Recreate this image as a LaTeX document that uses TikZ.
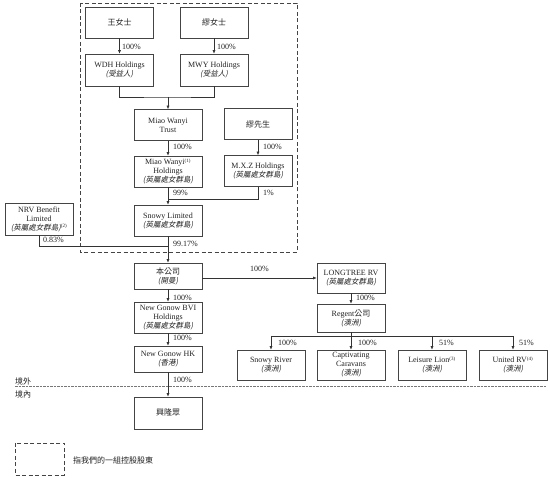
\documentclass[tikz,border=0pt]{standalone}
\usepackage{fontspec}
\setmainfont{Liberation Serif}
\newfontfamily\zhfont{Noto Sans CJK TC}
\newfontfamily\zhslant{Noto Sans CJK TC}[FakeSlant=0.2]
\newcommand{\zh}[1]{{\zhfont #1}}
\newcommand{\zp}[1]{{\zhslant\fontsize{7.5}{9}\selectfont(#1)}}
\newcommand{\fnm}[1]{\textsuperscript{\fontsize{5}{5}\selectfont(#1)}}
\usetikzlibrary{arrows.meta}
\definecolor{linec}{HTML}{333333}
\definecolor{boxc}{HTML}{444444}
\definecolor{txtc}{HTML}{222222}
\definecolor{dotc}{HTML}{777777}
\begin{document}
\begin{tikzpicture}[x=1pt,y=-1pt,
  box/.style={draw=boxc, line width=0.6pt, minimum width=68pt, align=center, inner sep=1pt,
    font=\fontsize{8}{9}\selectfont, text=txtc},
  ln/.style={draw=linec, line width=0.6pt},
  arr/.style={ln, -{Latex[length=3.5pt,width=3pt]}},
  pct/.style={font=\fontsize{8}{9}\selectfont, anchor=west, inner sep=0pt, text=txtc},
  lbl/.style={font=\fontsize{8}{9}\selectfont, anchor=west, inner sep=0pt, text=txtc},
]
\lineskiplimit=-20pt\relax
\useasboundingbox (0,0) rectangle (550,478);

% controlling shareholders group (dashed)
\draw[boxc, line width=0.6pt, dash pattern=on 4pt off 2.5pt] (80,3) rectangle (297,252);

\node[box, minimum height=31pt] (wang) at (119.5,22.5) {\zh{王女士}};
\node[box, minimum height=31pt] (miaof) at (214,22.5) {\zh{繆女士}};
\node[box, minimum height=32pt] (wdh) at (119.5,70) {WDH Holdings\\\zp{受益人}};
\node[box, minimum height=32pt] (mwy) at (214,70) {MWY Holdings\\\zp{受益人}};
\node[box, minimum height=31pt] (trust) at (168,125) {Miao Wanyi\\Trust};
\node[box, minimum height=31pt] (miaom) at (258,124) {\zh{繆先生}};
\node[box, minimum height=31pt] (mwh) at (168,171.5) {Miao Wanyi\fnm{1}\\Holdings\\\zp{英屬處女群島}};
\node[box, minimum height=31pt] (mxz) at (258,171) {M.X.Z Holdings\\\zp{英屬處女群島}};
\node[box, minimum height=31pt] (snowy) at (168,220.5) {Snowy Limited\\\zp{英屬處女群島}};
\node[box, minimum height=32pt] (nrv) at (39,219) {NRV Benefit\\Limited\\\zp{英屬處女群島}\fnm{2}};
\node[box, minimum height=26pt] (co) at (168,276) {\zh{本公司}\\\zp{開曼}};
\node[box, minimum height=31pt] (bvi) at (168,317.5) {New Gonow BVI\\Holdings\\\zp{英屬處女群島}};
\node[box, minimum height=26pt] (hk) at (168,359) {New Gonow HK\\\zp{香港}};
\node[box, minimum height=32pt] (xlz) at (168,413) {\zh{興隆眾}};
\node[box, minimum height=30pt] (lt) at (351,278) {LONGTREE RV\\\zp{英屬處女群島}};
\node[box, minimum height=28pt] (reg) at (351,318) {Regent\zh{公司}\\\zp{澳洲}};
\node[box, minimum height=30pt] (sr) at (271,365) {Snowy River\\\zp{澳洲}};
\node[box, minimum height=30pt] (cc) at (351,365) {Captivating\\Caravans\\\zp{澳洲}};
\node[box, minimum height=30pt] (ll) at (432,365) {Leisure Lion\fnm{3}\\\zp{澳洲}};
\node[box, minimum height=30pt] (urv) at (513,365) {United RV\fnm{4}\\\zp{澳洲}};

% connectors
\draw[arr] (wang) -- (wdh);
\draw[arr] (miaof) -- (mwy);
\coordinate (j1) at (168,97);
\draw[ln] (wdh.south) |- (j1) -| (mwy.south);
\draw[arr] (j1) -- (trust);
\draw[arr] (trust) -- (mwh);
\draw[arr] (miaom) -- (mxz);
\coordinate (j2) at (168,199);
\draw[arr] (mwh) -- (snowy);
\draw[ln] (mxz.south) |- (j2);
\coordinate (j3) at (168,246);
\draw[arr] (snowy) -- (co);
\draw[ln] (nrv.south) |- (j3);
\draw[arr] (co.east |- lt.west) -- (lt.west);
\draw[arr] (co) -- (bvi);
\draw[arr] (bvi) -- (hk);
\draw[arr] (hk) -- (xlz);
\draw[arr] (lt) -- (reg);
\coordinate (bl) at (271,336);
\coordinate (bm) at (432,336);
\coordinate (br) at (513,336);
\draw[ln] (bl) -- (br);
\draw[arr] (reg) -- (cc);
\draw[arr] (bl) -- (sr);
\draw[arr] (bm) -- (ll);
\draw[arr] (br) -- (urv);

% percentages
\node[pct] at (122,47) {100\%};
\node[pct] at (217,47) {100\%};
\node[pct] at (173,147) {100\%};
\node[pct] at (263,147) {100\%};
\node[pct] at (173,193) {99\%};
\node[pct] at (263,193) {1\%};
\node[pct] at (43,240) {0.83\%};
\node[pct] at (173,244) {99.17\%};
\node[pct] at (250,269) {100\%};
\node[pct] at (173,298) {100\%};
\node[pct] at (173,338) {100\%};
\node[pct] at (173,380) {100\%};
\node[pct] at (356,298) {100\%};
\node[pct] at (278,343) {100\%};
\node[pct] at (358,343) {100\%};
\node[pct] at (439,343) {51\%};
\node[pct] at (519,343) {51\%};

% onshore / offshore divider
\draw[dotc, line width=0.7pt, dash pattern=on 2.5pt off 1pt] (15,386.5) -- (547,386.5);
\node[lbl] at (15,381) {\zh{境外}};
\node[lbl] at (15,394) {\zh{境內}};

% legend
\draw[boxc, line width=0.6pt, dash pattern=on 4pt off 2.5pt] (15,443) rectangle (64,475);
\node[lbl] at (73,460) {\zh{指我們的一組控股股東}};
\end{tikzpicture}
\end{document}
